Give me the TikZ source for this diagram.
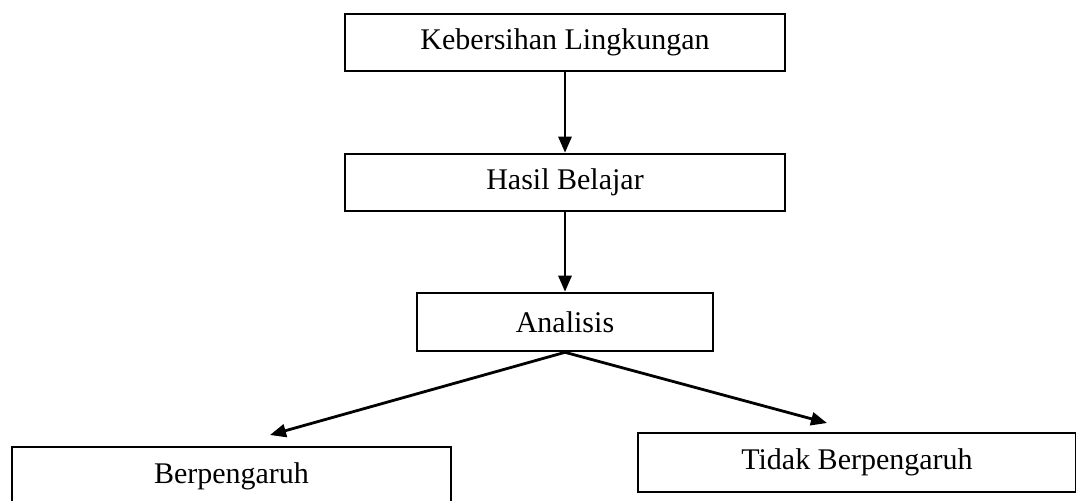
\documentclass[tikz,border=0pt]{standalone}
\usepackage{fontspec}
\setmainfont{Liberation Serif}
\usetikzlibrary{arrows.meta}
\begin{document}
\begin{tikzpicture}[x=0.5pt,y=-0.5pt,
  box/.style={draw,line width=1.3pt,inner sep=0pt,font=\fontsize{15}{18}\selectfont},
  conn/.style={line width=1.4pt,-{Triangle[length=8pt,width=6.5pt]}}]
\useasboundingbox (0,0) rectangle (1076,500);
\clip (0,0) rectangle (1076,500);
\node[box,minimum width=220pt,minimum height=28.5pt] (kl) at (565,42.5) {Kebersihan Lingkungan};
\node[box,minimum width=220pt,minimum height=28.5pt] (hb) at (565,182.5) {Hasil Belajar};
\node[box,minimum width=148pt,minimum height=29pt] (an) at (565,322) {Analisis};
\node[box,minimum width=219.5pt,minimum height=29pt] (bp) at (231.5,476) {Berpengaruh};
\node[box,minimum width=219pt,minimum height=29.5pt] (tb) at (857,462.5) {Tidak Berpengaruh};
\coordinate (lt) at (270,435);
\coordinate (rt) at (827,423);
\draw[conn] (kl.south) -- (hb.north);
\draw[conn] (hb.south) -- (an.north);
\draw[conn] (an.south) -- (lt);
\draw[conn] (an.south) -- (rt);
\end{tikzpicture}
\end{document}
